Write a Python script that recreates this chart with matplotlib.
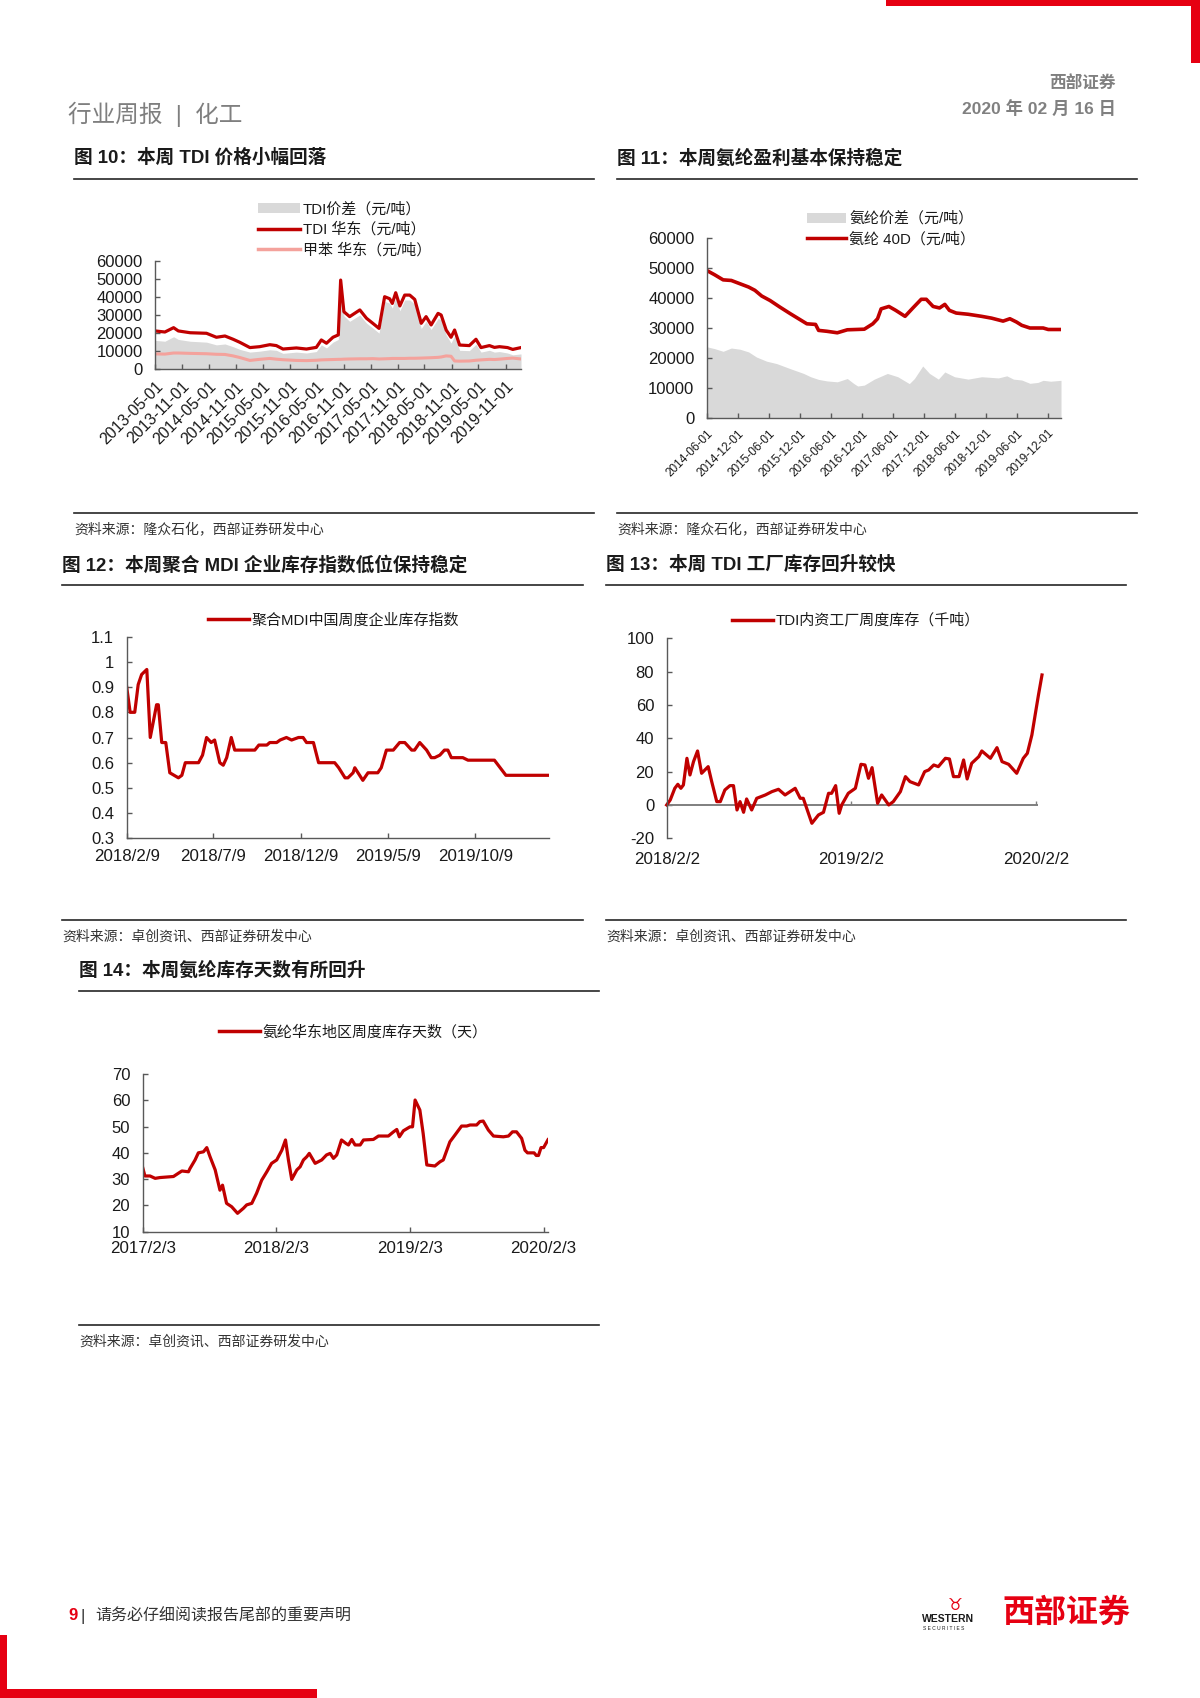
import pandas as pd
import numpy as np
import matplotlib.pyplot as plt
from matplotlib.lines import Line2D
from matplotlib.patches import Rectangle, Patch
from matplotlib.ticker import FuncFormatter

plt.rcParams['font.family'] = ['Liberation Sans', 'Noto Sans CJK SC']
plt.rcParams['axes.unicode_minus'] = False

# ---- 图10: TDI 价格 ----
tdiDates = ["2013-05-01", "2013-07-07", "2013-09-04", "2013-10-06", "2013-12-25", "2014-04-15",
            "2014-06-21", "2014-08-18", "2014-10-12", "2014-11-27", "2015-02-03", "2015-04-10",
            "2015-06-18", "2015-08-01", "2015-09-15", "2015-12-15", "2016-02-21", "2016-04-28",
            "2016-06-01", "2016-07-06", "2016-08-19", "2016-09-24", "2016-10-10", "2016-11-01",
            "2016-12-10", "2017-02-17", "2017-04-03", "2017-05-16", "2017-06-27", "2017-08-04",
            "2017-09-07", "2017-09-25", "2017-10-18", "2017-11-15", "2017-12-18", "2018-01-21",
            "2018-02-24", "2018-04-09", "2018-05-12", "2018-06-15", "2018-08-01", "2018-08-22",
            "2018-09-25", "2018-10-28", "2018-11-21", "2018-12-25", "2019-03-01", "2019-04-15",
            "2019-05-19", "2019-07-15", "2019-08-18", "2019-09-21", "2019-11-15", "2019-12-20",
            "2020-02-14"]
tdiEast = [21200, 20600, 23000, 21200, 20200, 19900, 17700, 18400, 16600, 14900, 12000, 12500,
           13600, 13100, 11200, 11800, 11200, 12100, 16200, 14400, 17700, 19000, 49300, 31800,
           29100, 32800, 28200, 25400, 22600, 40100, 39000, 36400, 42300, 35000, 41000, 41000,
           38600, 25400, 29100, 24500, 30900, 30000, 21700, 17700, 21700, 13400, 13100, 16600,
           12000, 13100, 12100, 12500, 12000, 11000, 12000]
tdiSpread = [16000, 15500, 18000, 16500, 15500, 15000, 13500, 14000, 12500, 11000, 9500, 10000,
             10800, 10500, 8800, 9500, 9000, 9800, 13500, 11800, 15000, 16500, 46500, 29500,
             26500, 30000, 25500, 22800, 20000, 37500, 36500, 33800, 39500, 32300, 38300, 38300,
             36000, 22500, 26500, 22000, 28000, 27500, 19000, 14500, 18500, 10500, 10300, 13800,
             9500, 10500, 9500, 9800, 9000, 8000, 8500]
tolueneEast = [8500, 8400, 9000, 9000, 8800, 8600, 8300, 8200, 7400, 6500, 4900, 5500,
               6000, 5600, 5300, 4900, 4800, 5000, 5200, 5300, 5400, 5500, 5500, 5600,
               5700, 5800, 5800, 5900, 5700, 5800, 5900, 6000, 6000, 6000, 6000, 6100,
               6100, 6200, 6300, 6400, 6600, 6800, 7400, 7200, 4600, 4500, 4600, 5000,
               5200, 5500, 5400, 5600, 6000, 6200, 5700]
tdiTickLabels = ["2013-05-01", "2013-11-01", "2014-05-01", "2014-11-01", "2015-05-01", "2015-11-01",
                 "2016-05-01", "2016-11-01", "2017-05-01", "2017-11-01", "2018-05-01", "2018-11-01",
                 "2019-05-01", "2019-11-01"]
tdiLegend = ["TDI价差（元/吨）", "TDI 华东（元/吨）", "甲苯 华东（元/吨）"]

# ---- 图11: 氨纶 ----
spDates = ["2014-06-01", "2014-07-16", "2014-09-04", "2014-10-22", "2014-12-12", "2015-02-01",
           "2015-03-10", "2015-04-19", "2015-06-07", "2015-08-04", "2015-10-04", "2015-11-22",
           "2016-01-10", "2016-03-01", "2016-03-19", "2016-05-07", "2016-07-07", "2016-09-04",
           "2016-12-13", "2017-02-01", "2017-03-01", "2017-03-22", "2017-05-07", "2017-06-16",
           "2017-08-10", "2017-09-25", "2017-11-13", "2017-12-13", "2018-01-22", "2018-03-01",
           "2018-04-01", "2018-04-28", "2018-06-07", "2018-08-16", "2018-11-04", "2019-01-01",
           "2019-03-10", "2019-04-19", "2019-05-28", "2019-06-28", "2019-08-15", "2019-11-01",
           "2019-12-01", "2020-02-14"]
sp40D = [49200, 47800, 46100, 45900, 44800, 43700, 42600, 40700, 39200, 37000, 34800, 33100,
         31400, 31200, 29200, 28900, 28400, 29400, 29600, 31400, 33100, 36400, 37200, 35900,
         33900, 36700, 39600, 39600, 37200, 36700, 37900, 35900, 35000, 34600, 33900, 33300,
         32300, 33100, 32000, 30900, 30000, 30000, 29500, 29500]
spSpreadDates = ["2014-06-01", "2014-07-16", "2014-09-04", "2014-10-22", "2014-12-12", "2015-02-01",
                 "2015-03-19", "2015-05-18", "2015-07-16", "2015-10-04", "2015-12-22", "2016-02-01",
                 "2016-03-19", "2016-05-07", "2016-07-07", "2016-09-04", "2016-10-13", "2016-11-04",
                 "2016-12-13", "2017-02-10", "2017-04-28", "2017-06-28", "2017-09-04", "2017-10-04",
                 "2017-11-22", "2018-01-01", "2018-02-22", "2018-04-01", "2018-05-28", "2018-08-16",
                 "2018-11-04", "2019-02-10", "2019-04-01", "2019-05-10", "2019-06-28", "2019-08-15",
                 "2019-10-01", "2019-11-01", "2019-12-15", "2020-02-14"]
spSpread = [23700, 23100, 22200, 23300, 22900, 22000, 20300, 18900, 18100, 16400, 14800, 13700,
            12800, 12300, 12000, 13100, 11400, 10600, 10900, 12900, 14800, 13700, 11400, 13100,
            17300, 14800, 12900, 15300, 13700, 12900, 13700, 13300, 14000, 12900, 12600, 11500,
            11800, 12500, 12200, 12500]
spTickLabels = ["2014-06-01", "2014-12-01", "2015-06-01", "2015-12-01", "2016-06-01", "2016-12-01",
                "2017-06-01", "2017-12-01", "2018-06-01", "2018-12-01", "2019-06-01", "2019-12-01"]
spLegend = ["氨纶价差（元/吨）", "氨纶 40D（元/吨）"]

# ---- 图12: MDI 库存指数 ----
mdiDates = ["2018-02-09", "2018-02-15", "2018-02-23", "2018-03-01", "2018-03-07", "2018-03-16",
            "2018-03-22", "2018-04-02", "2018-04-05", "2018-04-11", "2018-04-18", "2018-04-25",
            "2018-05-10", "2018-05-16", "2018-05-22", "2018-06-14", "2018-06-21", "2018-06-28",
            "2018-07-06", "2018-07-12", "2018-07-21", "2018-07-27", "2018-08-02", "2018-08-10",
            "2018-08-16", "2018-09-20", "2018-09-27", "2018-10-11", "2018-10-16", "2018-10-28",
            "2018-11-03", "2018-11-14", "2018-11-23", "2018-12-05", "2018-12-13", "2018-12-19",
            "2018-12-31", "2019-01-09", "2019-01-17", "2019-02-06", "2019-02-13", "2019-02-24",
            "2019-03-01", "2019-03-10", "2019-03-13", "2019-03-27", "2019-04-05", "2019-04-14",
            "2019-04-22", "2019-04-28", "2019-05-07", "2019-05-19", "2019-05-30", "2019-06-08",
            "2019-06-20", "2019-06-25", "2019-07-04", "2019-07-16", "2019-07-24", "2019-07-30",
            "2019-08-08", "2019-08-16", "2019-08-22", "2019-08-28", "2019-09-17", "2019-09-26",
            "2019-11-11", "2019-12-01", "2019-12-16", "2020-02-14"]
mdiIndex = [0.90, 0.80, 0.80, 0.91, 0.95, 0.97, 0.70, 0.83, 0.83, 0.68, 0.68, 0.56,
            0.54, 0.55, 0.60, 0.60, 0.63, 0.70, 0.68, 0.69, 0.60, 0.59, 0.62, 0.70,
            0.65, 0.65, 0.67, 0.67, 0.68, 0.68, 0.69, 0.70, 0.69, 0.70, 0.70, 0.68,
            0.68, 0.60, 0.60, 0.60, 0.58, 0.54, 0.54, 0.56, 0.58, 0.53, 0.56, 0.56,
            0.56, 0.58, 0.65, 0.65, 0.68, 0.68, 0.65, 0.65, 0.68, 0.65, 0.62, 0.62,
            0.63, 0.65, 0.65, 0.62, 0.62, 0.61, 0.61, 0.55, 0.55, 0.55]
mdiTicks = ["2018-02-09", "2018-07-09", "2018-12-09", "2019-05-09", "2019-10-09"]
mdiTickLabels = ["2018/2/9", "2018/7/9", "2018/12/9", "2019/5/9", "2019/10/9"]
mdiLegend = "聚合MDI中国周度企业库存指数"

# ---- 图13: TDI 工厂库存 ----
stockDates = ["2018-02-02", "2018-02-09", "2018-02-18", "2018-02-24", "2018-03-02", "2018-03-07",
              "2018-03-14", "2018-03-20", "2018-03-27", "2018-04-04", "2018-04-12", "2018-04-25",
              "2018-05-02", "2018-05-12", "2018-05-19", "2018-05-28", "2018-06-07", "2018-06-14",
              "2018-06-21", "2018-06-27", "2018-07-04", "2018-07-10", "2018-07-20", "2018-07-30",
              "2018-08-16", "2018-08-29", "2018-09-11", "2018-09-24", "2018-10-14", "2018-10-24",
              "2018-10-30", "2018-11-16", "2018-11-29", "2018-12-09", "2018-12-19", "2018-12-25",
              "2019-01-02", "2019-01-09", "2019-01-14", "2019-01-27", "2019-02-10", "2019-02-21",
              "2019-03-01", "2019-03-08", "2019-03-15", "2019-03-26", "2019-04-03", "2019-04-17",
              "2019-04-26", "2019-05-10", "2019-05-20", "2019-05-29", "2019-06-15", "2019-06-27",
              "2019-07-05", "2019-07-15", "2019-07-24", "2019-08-07", "2019-08-15", "2019-08-23",
              "2019-09-03", "2019-09-12", "2019-09-19", "2019-09-28", "2019-10-12", "2019-10-18",
              "2019-11-04", "2019-11-17", "2019-11-27", "2019-12-10", "2019-12-26", "2020-01-08",
              "2020-01-16", "2020-01-25", "2020-02-01", "2020-02-07", "2020-02-14"]
tdiStock = [0, 3, 10, 12.4, 10, 12, 28, 18, 26, 32.4, 19, 23,
            14, 2, 2, 9, 11.6, 11.6, -3, 2, -4.4, 3.6, -3, 4,
            6, 8, 9.4, 6, 10, 4, 4, -11, -6, -4.4, 7, 7,
            11.6, -5, 0, 7, 10, 24.4, 24, 16, 22.4, 1, 6, 0,
            2, 8, 17, 14, 12, 20, 21, 24, 23, 28, 27.6, 17,
            17, 27, 15.6, 25, 29, 32.4, 28, 34.4, 26, 24.4, 19, 28,
            31, 42, 55, 66, 78]
stockTicks = ["2018-02-02", "2019-02-02", "2020-02-02"]
stockTickLabels = ["2018/2/2", "2019/2/2", "2020/2/2"]
stockZeroEnd = "2020-02-07"
stockLegend = "TDI内资工厂周度库存（千吨）"

# ---- 图14: 氨纶库存天数 ----
daysDates = ["2017-02-03", "2017-02-09", "2017-02-23", "2017-03-09", "2017-03-22", "2017-04-28",
             "2017-05-11", "2017-05-21", "2017-06-08", "2017-06-12", "2017-06-26", "2017-07-05",
             "2017-07-19", "2017-07-28", "2017-08-06", "2017-08-20", "2017-09-02", "2017-09-09",
             "2017-09-20", "2017-10-04", "2017-10-20", "2017-11-05", "2017-11-14", "2017-11-28",
             "2017-12-11", "2017-12-25", "2018-01-08", "2018-01-21", "2018-02-04", "2018-02-18",
             "2018-02-28", "2018-03-08", "2018-03-17", "2018-03-31", "2018-04-09", "2018-04-18",
             "2018-04-27", "2018-05-04", "2018-05-20", "2018-06-07", "2018-06-20", "2018-06-30",
             "2018-07-09", "2018-07-18", "2018-07-31", "2018-08-12", "2018-08-19", "2018-08-28",
             "2018-09-06", "2018-09-20", "2018-09-29", "2018-10-26", "2018-11-09", "2018-12-06",
             "2018-12-20", "2018-12-29", "2019-01-05", "2019-01-16", "2019-02-03", "2019-02-10",
             "2019-02-17", "2019-03-02", "2019-03-11", "2019-03-21", "2019-04-12", "2019-04-26",
             "2019-05-05", "2019-05-23", "2019-06-06", "2019-06-24", "2019-07-08", "2019-07-17",
             "2019-08-04", "2019-08-13", "2019-08-22", "2019-09-05", "2019-09-19", "2019-10-16",
             "2019-10-30", "2019-11-10", "2019-11-21", "2019-12-05", "2019-12-14", "2019-12-21",
             "2020-01-08", "2020-01-14", "2020-01-20", "2020-01-27", "2020-02-03", "2020-02-15"]
spandexDays = [34.4, 31.2, 31.2, 30.3, 30.6, 31, 32.2, 33.1, 32.8, 34, 37.3, 40,
               40.4, 42, 38.5, 33.5, 25.8, 27.7, 20.8, 19.5, 17, 18.9, 20.2, 20.8,
               24.6, 29.6, 32.8, 36, 37.3, 41, 44.9, 37.3, 29.9, 33.5, 34.7, 37.3,
               38.5, 39.8, 36, 37.3, 39.2, 39.8, 37.9, 39.2, 44.9, 43.6, 43, 45.1,
               43, 43, 44.9, 45.1, 46.4, 46.4, 48, 48.9, 46.1, 48.4, 49.9, 49.9,
               60.1, 56.3, 47.4, 35.4, 35, 36.6, 37.3, 44.2, 46.8, 50.2, 50.2, 50.6,
               50.6, 51.9, 52.1, 48.7, 46.4, 46.1, 46.4, 48, 48, 45.5, 41, 40,
               40, 39, 39, 42, 42, 45]
daysTicks = ["2017-02-03", "2018-02-03", "2019-02-03", "2020-02-03"]
daysTickLabels = ["2017/2/3", "2018/2/3", "2019/2/3", "2020/2/3"]
daysLegend = "氨纶华东地区周度库存天数（天）"

W, H = 1200, 1698
RED = "#c00000"
GRAY_FILL = "#d9d9d9"
PINK = "#f4a29c"
AXIS = "#595959"
TXT = "#1a1a1a"


def pxAxes(fig, x0, y0, x1, y1):
    return fig.add_axes([x0 / W, 1 - y1 / H, (x1 - x0) / W, (y1 - y0) / H])


def figText(fig, x, y, s, **kw):
    fig.text(x / W, 1 - y / H, s, **kw)


def hline(fig, x0, x1, y, color="#262626", lw=1.2):
    fig.add_artist(Line2D([x0 / W, x1 / W], [1 - y / H, 1 - y / H],
                          transform=fig.transFigure, color=color, lw=lw))


def styleAxes(ax):
    for s in ["top", "right"]:
        ax.spines[s].set_visible(False)
    for s in ["left", "bottom"]:
        ax.spines[s].set_color(AXIS)
        ax.spines[s].set_linewidth(1.0)
    ax.tick_params(direction="in", length=3.5, width=1, color=AXIS, labelcolor=TXT)


def legendAt(fig, handles, labels, x, y, hl=2.9, spacing=0.4):
    fig.legend(handles, labels, loc="center left", bbox_to_anchor=(x / W, 1 - y / H),
               bbox_transform=fig.transFigure, frameon=False, borderpad=0, borderaxespad=0,
               handlelength=hl, handletextpad=0.2, labelspacing=spacing, fontsize=10.8,
               labelcolor=TXT)


def chartFrame(fig, x0, x1, yTitle, yRule, ySrc, title, source):
    figText(fig, x0, yTitle, title, fontsize=13.4, fontweight="bold", color="#1a1a1a", va="center")
    hline(fig, x0, x1, yRule)
    hline(fig, x0, x1, ySrc)
    figText(fig, x0, ySrc + 17, source, fontsize=10, color="#333333", va="center")


def main():
    fig = plt.figure(figsize=(W / 100, H / 100), dpi=100)

    # page decorations
    red = "#e60012"
    for (x, y, w, h) in [(886, 0, 314, 6), (1191, 0, 9, 63), (0, 1635, 7, 63), (0, 1689, 317, 9)]:
        fig.add_artist(Rectangle((x / W, 1 - (y + h) / H), w / W, h / H,
                                 transform=fig.transFigure, color=red, lw=0))
    figText(fig, 68, 114, "行业周报  |  化工", fontsize=17, color="#7f7f7f", va="center")
    figText(fig, 1116, 84, "西部证券", fontsize=12, fontweight="bold", color="#808080",
            ha="right", va="center")
    figText(fig, 1116, 109, "2020 年 02 月 16 日", fontsize=12.5, fontweight="bold",
            color="#808080", ha="right", va="center")

    src1 = "资料来源：隆众石化，西部证券研发中心"
    src2 = "资料来源：卓创资讯、西部证券研发中心"
    chartFrame(fig, 74, 594, 158, 179, 513, "图 10：本周 TDI 价格小幅回落", src1)
    chartFrame(fig, 617, 1137, 158, 179, 513, "图 11：本周氨纶盈利基本保持稳定", src1)
    chartFrame(fig, 62, 583, 565, 585, 920, "图 12：本周聚合 MDI 企业库存指数低位保持稳定", src2)
    chartFrame(fig, 606, 1126, 565, 585, 920, "图 13：本周 TDI 工厂库存回升较快", src2)
    chartFrame(fig, 79, 599, 971, 991, 1325, "图 14：本周氨纶库存天数有所回升", src2)

    # 图10
    ax = pxAxes(fig, 155, 260.7, 521, 369.3)
    d = pd.to_datetime(tdiDates)
    ax.fill_between(d, 0, tdiSpread, color=GRAY_FILL, lw=0)
    ax.plot(d, tolueneEast, color=PINK, lw=2.2)
    ax.plot(d, tdiEast, color=RED, lw=2.3)
    ax.set_xlim(pd.Timestamp("2013-05-01"), pd.Timestamp("2020-02-14"))
    ax.set_ylim(0, 60000)
    ax.set_yticks(np.arange(0, 60001, 10000))
    styleAxes(ax)
    ax.set_xticks(pd.to_datetime(tdiTickLabels))
    ax.set_xticklabels(tdiTickLabels, rotation=45, ha="right", va="top",
                       rotation_mode="anchor", fontsize=11.5)
    ax.tick_params(axis="x", pad=7)
    ax.tick_params(axis="y", labelsize=12, pad=9)
    legendAt(fig, [Patch(facecolor=GRAY_FILL), Line2D([], [], color=RED, lw=2.5),
                   Line2D([], [], color=PINK, lw=2.5)], tdiLegend, 258, 229.6, hl=2.8)

    # 图11
    ax = pxAxes(fig, 707, 238.3, 1061, 417.7)
    ax.fill_between(pd.to_datetime(spSpreadDates), 0, spSpread, color=GRAY_FILL, lw=0)
    ax.plot(pd.to_datetime(spDates), sp40D, color=RED, lw=2.6)
    ax.set_xlim(pd.Timestamp("2014-06-01"), pd.Timestamp("2020-02-14"))
    ax.set_ylim(0, 60000)
    ax.set_yticks(np.arange(0, 60001, 10000))
    styleAxes(ax)
    ax.set_xticks(pd.to_datetime(spTickLabels))
    ax.set_xticklabels(spTickLabels, rotation=45, ha="right", va="top",
                       rotation_mode="anchor", fontsize=8.5)
    ax.tick_params(axis="x", pad=7)
    ax.tick_params(axis="y", labelsize=12, pad=9)
    legendAt(fig, [Patch(facecolor=GRAY_FILL), Line2D([], [], color=RED, lw=2.5)],
             spLegend, 807, 229, hl=2.6)

    # 图12
    ax = pxAxes(fig, 126.7, 636.7, 549, 838.3)
    ax.plot(pd.to_datetime(mdiDates), mdiIndex, color=RED, lw=2.3)
    ax.set_xlim(pd.Timestamp("2018-02-09"), pd.Timestamp("2020-02-14"))
    ax.set_ylim(0.3, 1.1)
    ax.set_yticks(np.arange(0.3, 1.11, 0.1))
    ax.yaxis.set_major_formatter(FuncFormatter(lambda v, p: "{:g}".format(round(v, 1))))
    styleAxes(ax)
    ax.set_xticks(pd.to_datetime(mdiTicks))
    ax.set_xticklabels(mdiTickLabels, fontsize=12.2)
    ax.tick_params(axis="x", pad=8)
    ax.tick_params(axis="y", labelsize=12, pad=9)
    legendAt(fig, [Line2D([], [], color=RED, lw=2.5)], [mdiLegend], 208, 620.6, hl=2.7)

    # 图13
    ax = pxAxes(fig, 666.7, 638.3, 1042, 838.3)
    sd = pd.to_datetime(stockDates)
    ax.hlines(0, sd[0], pd.Timestamp(stockZeroEnd), color="#7f7f7f", lw=1.4)
    ax.vlines(pd.to_datetime(stockTicks[1:]), 0, 2.5, color="#7f7f7f", lw=1)
    ax.plot(sd, tdiStock, color=RED, lw=2.3, clip_on=False)
    ax.set_xlim(pd.Timestamp("2018-02-02"), pd.Timestamp("2020-02-14"))
    ax.set_ylim(-20, 100)
    ax.set_yticks(np.arange(-20, 101, 20))
    styleAxes(ax)
    ax.spines["bottom"].set_visible(False)
    ax.set_xticks(pd.to_datetime(stockTicks))
    ax.set_xticklabels(stockTickLabels, fontsize=12.2)
    ax.tick_params(axis="x", length=0, pad=10)
    ax.tick_params(axis="y", labelsize=12, pad=9)
    legendAt(fig, [Line2D([], [], color=RED, lw=2.5)], [stockLegend], 732, 620.6, hl=2.7)

    # 图14
    ax = pxAxes(fig, 142.7, 1074, 548, 1231.7)
    ax.plot(pd.to_datetime(daysDates), spandexDays, color=RED, lw=2.3)
    ax.set_xlim(pd.Timestamp("2017-02-03"), pd.Timestamp("2020-02-15"))
    ax.set_ylim(10, 70)
    ax.set_yticks(np.arange(10, 71, 10))
    styleAxes(ax)
    ax.set_xticks(pd.to_datetime(daysTicks))
    ax.set_xticklabels(daysTickLabels, fontsize=12.2)
    ax.tick_params(axis="x", pad=7)
    ax.tick_params(axis="y", labelsize=12, pad=9)
    legendAt(fig, [Line2D([], [], color=RED, lw=2.5)], [daysLegend], 219, 1032, hl=2.7)

    # footer
    figText(fig, 68, 1616, "9", fontsize=12, fontweight="bold", color=red, va="center")
    figText(fig, 80, 1616, "|", fontsize=12, color="#333333", va="center")
    figText(fig, 95, 1616, "请务必仔细阅读报告尾部的重要声明", fontsize=11.5, color="#333333",
            va="center")
    figText(fig, 1002, 1614, "西部证券", fontsize=23, fontweight="heavy", color=red, va="center")
    figText(fig, 922, 1619, "WESTERN", fontsize=7.5, fontweight="bold", color="#1a1a1a",
            va="center")
    figText(fig, 923, 1628, "S E C U R I T I E S", fontsize=3.5, color="#1a1a1a", va="center")
    figText(fig, 955, 1605, "♉", fontsize=12, color=red, va="center", ha="center",
            family=["DejaVu Sans"])

    fig.savefig("out.png", dpi=100)
    plt.close(fig)


if __name__ == "__main__":
    main()
